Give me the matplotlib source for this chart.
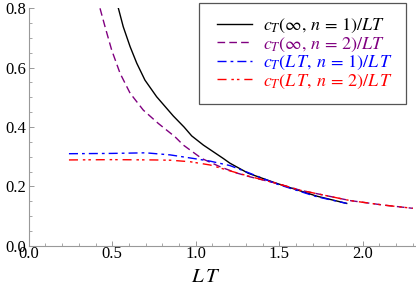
import matplotlib
matplotlib.use("Agg")
from matplotlib import pyplot as plt
from matplotlib.patches import Rectangle
from matplotlib.ticker import MultipleLocator, FormatStrFormatter

plt.rcParams["font.family"] = "serif"
plt.rcParams["font.serif"] = ["Liberation Serif", "DejaVu Serif"]
plt.rcParams["mathtext.fontset"] = "stix"

# values
inf1_x = [0.537, 0.566, 0.607, 0.647, 0.696, 0.766, 0.866, 0.930, 0.976, 1.046, 1.165, 1.205, 1.315, 1.485, 1.725, 1.904]
inf1_y = [0.80, 0.738, 0.671, 0.615, 0.558, 0.502, 0.437, 0.400, 0.370, 0.339, 0.294, 0.278, 0.244, 0.210, 0.167, 0.1425]

inf2_x = [0.427, 0.457, 0.497, 0.547, 0.607, 0.686, 0.776, 0.876, 0.926, 1.036, 1.146, 1.245, 1.326, 1.485, 1.625, 1.925, 2.123, 2.30]
inf2_y = [0.80, 0.738, 0.659, 0.581, 0.514, 0.457, 0.412, 0.367, 0.339, 0.294, 0.266, 0.245, 0.232, 0.210, 0.187, 0.152, 0.137, 0.126]

lt1_x = [0.241, 0.5, 0.7, 0.847, 0.986, 1.086, 1.205, 1.325, 1.485, 1.725, 1.904]
lt1_y = [0.310, 0.311, 0.313, 0.306, 0.294, 0.285, 0.270, 0.244, 0.208, 0.165, 0.1425]

lt2_x = [0.241, 0.5, 0.75, 0.85, 0.966, 1.086, 1.2, 1.326, 1.485, 1.625, 1.925, 2.123, 2.30]
lt2_y = [0.289, 0.290, 0.289, 0.288, 0.283, 0.272, 0.253, 0.233, 0.210, 0.187, 0.152, 0.137, 0.126]

labels = [
    r"$c_T(\infty,\,n\,=\,1)/LT$",
    r"$c_T(\infty,\,n\,=\,2)/LT$",
    r"$c_T(L\,T,\,n\,=\,1)/L\,T$",
    r"$c_T(L\,T,\,n\,=\,2)/L\,T$",
]

W, H = 416, 291
fig = plt.figure(figsize=(W / 100, H / 100), dpi=100)
ax = fig.add_axes([28.7 / W, 45.3 / H, 385.8 / W, 237.4 / H])

ax.plot(inf1_x, inf1_y, color="black", lw=1.0, label=labels[0])
ax.plot(inf2_x, inf2_y, color="#800080", lw=1.0, dashes=(5.5, 3.0), label=labels[1])
ax.plot(lt1_x, lt1_y, color="blue", lw=1.0, dashes=(6.5, 2.9, 2.0, 2.9), label=labels[2])
ax.plot(lt2_x, lt2_y, color="red", lw=1.0, dashes=(6.5, 3.5, 1.8, 2.2, 1.8, 3.5), label=labels[3])

ax.set_xlim(0, 2.31)
ax.set_ylim(0, 0.8)
for s in ["top", "right"]:
    ax.spines[s].set_visible(False)
for s in ["left", "bottom"]:
    ax.spines[s].set_color("#999999")
    ax.spines[s].set_linewidth(0.8)

ax.xaxis.set_major_locator(MultipleLocator(0.5))
ax.xaxis.set_minor_locator(MultipleLocator(0.1))
ax.yaxis.set_major_locator(MultipleLocator(0.2))
ax.yaxis.set_minor_locator(MultipleLocator(0.05))
ax.xaxis.set_major_formatter(FormatStrFormatter("%.1f"))
ax.yaxis.set_major_formatter(FormatStrFormatter("%.1f"))
ax.tick_params(which="major", direction="in", length=3.6, width=0.7, color="#999999", labelsize=12)
ax.tick_params(which="minor", direction="in", length=2.0, width=0.6, color="#999999")
ax.tick_params(axis="x", pad=0.5)
ax.tick_params(axis="y", pad=1.5)

ax.set_xlabel(r"$L\,T$", fontsize=15)
ax.xaxis.set_label_coords(0.458, -0.095)

leg = ax.legend(loc="upper left", bbox_to_anchor=(217 / W, 1 - 17 / H), bbox_transform=fig.transFigure,
                frameon=False, fontsize=13, handlelength=1.95, handletextpad=0.6,
                labelspacing=0.02, borderpad=0, borderaxespad=0, labelcolor="linecolor")
fig.patches.append(Rectangle((199 / W, 1 - 104 / H), 207 / W, 101 / H, transform=fig.transFigure,
                             fill=False, edgecolor="#555555", lw=0.9))

plt.savefig("out.png", dpi=100)
